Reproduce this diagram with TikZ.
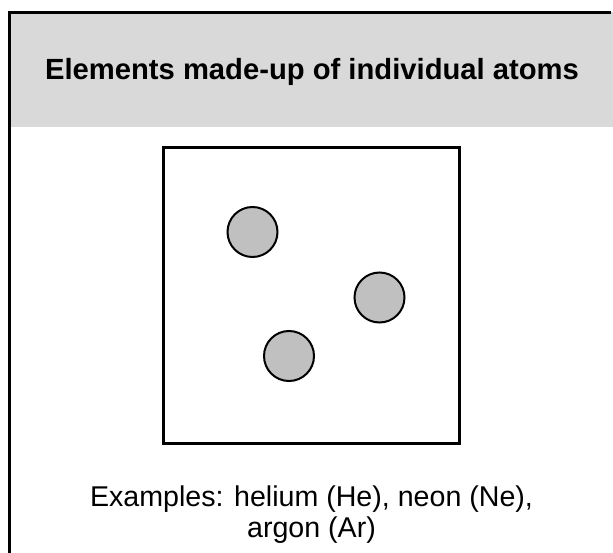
\documentclass[tikz,border=0pt]{standalone}
\usepackage{fontspec}
\setmainfont{Liberation Sans}
\definecolor{hdrgrey}{HTML}{D9D9D9}
\definecolor{atomgrey}{HTML}{C0C0C0}
\begin{document}
\begin{tikzpicture}[x=1pt,y=-1pt,
  atom/.style={circle,draw=black,line width=2pt,fill=atomgrey,minimum size=50pt,inner sep=0pt},
  frame/.style={draw=black,line width=3pt},
  txt/.style={inner sep=0pt,align=center}]
\useasboundingbox (0,0) rectangle (613,553);
\fill[hdrgrey] (9.5,12.5) rectangle (613,127);
\draw[frame] (9.5,553) -- (9.5,12.5) -- (611,12.5);
\node[txt,font=\bfseries\fontsize{29.2}{34}\selectfont,anchor=base] (title) at (312,80) {Elements made-up of individual atoms};
\node[frame,minimum width=296pt,minimum height=296pt,inner sep=0pt] (box) at (311.5,295.5) {};
\node[atom] (a1) at (252.5,232) {};
\node[atom] (a2) at (379.5,297.5) {};
\node[atom] (a3) at (289,356) {};
\node[txt,font=\fontsize{28.6}{31.5}\selectfont,anchor=base] (ex) at (311.5,537.5) {Examples: helium (He), neon (Ne),\\argon (Ar)};
\end{tikzpicture}
\end{document}
